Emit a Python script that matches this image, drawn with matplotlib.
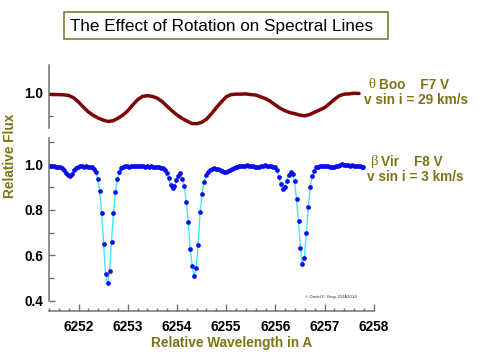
import numpy as np
import matplotlib
matplotlib.use('Agg')
import matplotlib.pyplot as plt
from matplotlib.ticker import MultipleLocator, FormatStrFormatter
from matplotlib.patches import Rectangle

plt.rcParams['font.family'] = ['Liberation Sans', 'DejaVu Sans']

# theta Boo (v sin i = 29 km/s), sampled every 0.1 A from 6251.40
boo_start, boo_step = 6251.40, 0.1
boo_flux = [0.994, 0.993, 0.993, 0.992, 0.989, 0.979, 0.960, 0.937,
            0.916, 0.901, 0.889, 0.880, 0.874, 0.877, 0.888, 0.902,
            0.921, 0.947, 0.970, 0.985, 0.988, 0.985, 0.977, 0.962,
            0.941, 0.921, 0.903, 0.888, 0.876, 0.865, 0.864, 0.870,
            0.884, 0.908, 0.935, 0.960, 0.983, 0.993, 0.995, 0.995,
            0.996, 0.993, 0.991, 0.983, 0.975, 0.963, 0.947, 0.932,
            0.921, 0.913, 0.908, 0.902, 0.899, 0.905, 0.915, 0.925,
            0.935, 0.953, 0.972, 0.988, 0.995, 0.996, 0.999, 0.998]

# beta Vir (v sin i = 3 km/s), sampled every 0.04 A from 6251.39
vir_start, vir_step = 6251.39, 0.04
vir_flux = [0.993, 0.994, 0.992, 0.993, 0.991, 0.990, 0.988, 0.984,
            0.975, 0.964, 0.954, 0.951, 0.960, 0.975, 0.985, 0.989,
            0.992, 0.993, 0.991, 0.993, 0.991, 0.990, 0.987, 0.982,
            0.966, 0.937, 0.884, 0.787, 0.648, 0.515, 0.477, 0.529,
            0.659, 0.788, 0.879, 0.934, 0.966, 0.984, 0.989, 0.992,
            0.993, 0.991, 0.994, 0.992, 0.993, 0.995, 0.992, 0.994,
            0.993, 0.991, 0.994, 0.990, 0.992, 0.989, 0.990, 0.988,
            0.988, 0.986, 0.983, 0.975, 0.962, 0.939, 0.910, 0.896,
            0.906, 0.930, 0.950, 0.963, 0.936, 0.907, 0.836, 0.748,
            0.627, 0.552, 0.510, 0.544, 0.644, 0.789, 0.868, 0.925,
            0.953, 0.967, 0.975, 0.980, 0.983, 0.981, 0.979, 0.975,
            0.970, 0.968, 0.968, 0.971, 0.975, 0.980, 0.986, 0.989,
            0.991, 0.993, 0.994, 0.993, 0.995, 0.996, 0.994, 0.995,
            0.993, 0.990, 0.989, 0.991, 0.994, 0.995, 0.996, 0.995,
            0.994, 0.992, 0.990, 0.988, 0.974, 0.945, 0.913, 0.891,
            0.901, 0.926, 0.956, 0.966, 0.958, 0.929, 0.846, 0.751,
            0.630, 0.560, 0.586, 0.700, 0.814, 0.901, 0.949, 0.972,
            0.987, 0.991, 0.993, 0.992, 0.994, 0.993, 0.992, 0.990,
            0.988, 0.990, 0.993, 0.994, 0.997, 1.004, 0.999, 0.996,
            0.997, 0.995, 0.996, 0.994, 0.995, 0.993, 0.994, 0.991,
            0.989]

boo_wl = boo_start + boo_step * np.arange(len(boo_flux))
vir_wl = vir_start + vir_step * np.arange(len(vir_flux))

olive = '#7b7516'
spine_col = '#707070'
W, H = 482, 360
fig = plt.figure(figsize=(W / 100, H / 100), dpi=100)

ax1 = fig.add_axes([49 / W, 1 - 128 / H, 325.3 / W, 63 / H])
ax2 = fig.add_axes([49 / W, 1 - 311 / H, 325.3 / W, 173 / H])

# upper panel: rapidly rotating star
ax1.plot(boo_wl, boo_flux, color='#7d0505', lw=2.5, solid_capstyle='round')
ax1.set_xlim(6251.40, 6258.01)
ax1.set_ylim(0.845, 1.124)
for s in ['top', 'right', 'bottom']:
    ax1.spines[s].set_visible(False)
ax1.spines['left'].set_color(spine_col)
ax1.spines['left'].set_linewidth(1.1)
ax1.set_xticks([])
ax1.set_yticks([1.0])
ax1.set_yticks([0.9], minor=True)
ax1.yaxis.set_major_formatter(FormatStrFormatter('%.1f'))

# lower panel: slowly rotating star
ax2.plot(vir_wl, vir_flux, '-', color='#40e8ff', lw=1.0, zorder=1)
ax2.plot(vir_wl, vir_flux, 'o', color='#0b0bef', ms=3.4, mec='none', zorder=2)
ax2.set_xlim(6251.40, 6258.01)
ax2.set_ylim(0.354, 1.117)
for s in ['top', 'right']:
    ax2.spines[s].set_visible(False)
for s in ['left', 'bottom']:
    ax2.spines[s].set_color(spine_col)
    ax2.spines[s].set_linewidth(1.1)
ax2.spines['left'].set_bounds(0.4, 1.117)
ax2.xaxis.set_major_locator(MultipleLocator(1))
ax2.xaxis.set_minor_locator(MultipleLocator(0.2))
ax2.xaxis.set_major_formatter(FormatStrFormatter('%d'))
ax2.yaxis.set_major_locator(MultipleLocator(0.2))
ax2.yaxis.set_minor_locator(MultipleLocator(0.1))
ax2.yaxis.set_major_formatter(FormatStrFormatter('%.1f'))

for ax in (ax1, ax2):
    ax.tick_params(which='major', direction='in', length=4.5, width=1,
                   color=spine_col, labelsize=9.8, pad=4.3)
    ax.tick_params(which='minor', direction='in', length=3, width=1,
                   color=spine_col)
    for lab in ax.get_xticklabels() + ax.get_yticklabels():
        lab.set_fontweight('bold')
ax2.tick_params(axis='x', which='major', length=5, pad=6.5)
ax2.tick_params(axis='x', which='minor', length=2.5)
ax2.tick_params(axis='y', which='minor', length=3.5)

# title box
fig.patches.append(Rectangle((64 / W, 1 - 39 / H), 324 / W, 27 / H,
                             transform=fig.transFigure, fill=False,
                             ec='#8c8640', lw=1.3))
fig.text(221.5 / W, 1 - 26 / H, 'The Effect of Rotation on Spectral Lines',
         ha='center', va='center', fontsize=12.3, color='black')

# axis labels
fig.text(10.5 / W, 1 - 156 / H, 'Relative Flux', rotation=90, ha='center',
         va='center', fontsize=9.8, fontweight='bold', color=olive)
fig.text(232 / W, 1 - 343 / H, 'Relative Wavelength in A', ha='center',
         va='center', fontsize=9.8, fontweight='bold', color=olive)

# star labels
fig.text(372 / W, 1 - 85 / H, '\u03b8', family=['Liberation Serif', 'DejaVu Serif'],
         ha='center', va='center', fontsize=10.5, color=olive)
fig.text(379 / W, 1 - 85 / H, 'Boo    F7 V', ha='left', va='center',
         fontsize=9.8, fontweight='bold', color=olive)
fig.text(416 / W, 1 - 99.5 / H, 'v sin i = 29 km/s', ha='center', va='center',
         fontsize=9.8, fontweight='bold', color=olive)

fig.text(375 / W, 1 - 161.5 / H, '\u03b2', family=['Liberation Serif', 'DejaVu Serif'],
         ha='center', va='center', fontsize=10.5, color=olive)
fig.text(381 / W, 1 - 161.5 / H, 'Vir    F8 V', ha='left', va='center',
         fontsize=9.8, fontweight='bold', color=olive)
fig.text(415.5 / W, 1 - 177 / H, 'v sin i = 3 km/s', ha='center', va='center',
         fontsize=9.8, fontweight='bold', color=olive)

fig.text(330.5 / W, 1 - 296.7 / H, '\u00a9 David F. Gray 30JA2014', ha='center',
         va='center', fontsize=3.2, color='#333333')

fig.savefig('out.png', dpi=100)
